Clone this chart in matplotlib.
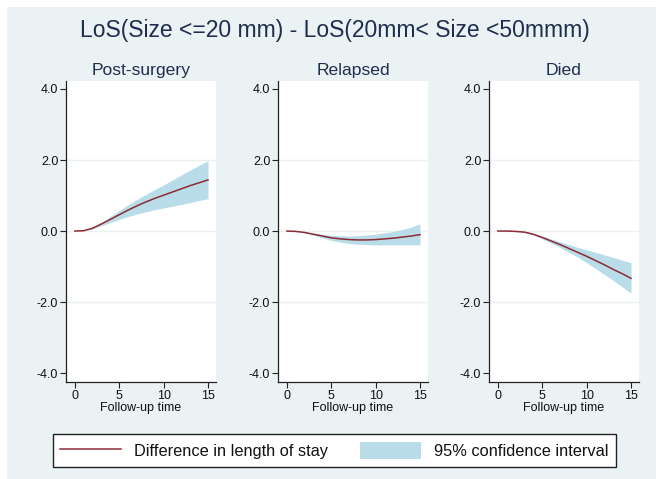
import matplotlib
matplotlib.use('Agg')
import matplotlib.pyplot as plt
from matplotlib.lines import Line2D
from matplotlib.patches import Patch, Rectangle

# follow-up time grid and estimated differences in length of stay
time = [0, 1, 2, 3, 4, 5, 6, 7, 8, 9, 10, 11, 12, 13, 14, 15]

panels = ['Post-surgery', 'Relapsed', 'Died']

post_est = [0, 0.01, 0.08, 0.20, 0.33, 0.46, 0.59, 0.71, 0.82, 0.92, 1.01, 1.10, 1.19, 1.28, 1.36, 1.44]
post_lo = [0, 0.01, 0.06, 0.15, 0.24, 0.33, 0.41, 0.48, 0.54, 0.60, 0.65, 0.70, 0.75, 0.80, 0.86, 0.91]
post_hi = [0, 0.01, 0.10, 0.24, 0.41, 0.58, 0.74, 0.89, 1.03, 1.17, 1.30, 1.44, 1.58, 1.72, 1.85, 1.98]

rel_est = [0, -0.01, -0.04, -0.09, -0.14, -0.19, -0.22, -0.24, -0.25, -0.25, -0.24, -0.22, -0.20, -0.17, -0.14, -0.10]
rel_lo = [0, -0.01, -0.05, -0.12, -0.19, -0.26, -0.31, -0.35, -0.37, -0.38, -0.39, -0.39, -0.39, -0.39, -0.39, -0.39]
rel_hi = [0, -0.01, -0.03, -0.06, -0.09, -0.12, -0.13, -0.14, -0.13, -0.11, -0.09, -0.05, -0.01, 0.04, 0.11, 0.20]

died_est = [0, 0, -0.01, -0.03, -0.09, -0.18, -0.28, -0.38, -0.49, -0.60, -0.71, -0.83, -0.95, -1.08, -1.20, -1.33]
died_lo = [0, 0, -0.01, -0.04, -0.11, -0.22, -0.34, -0.46, -0.60, -0.73, -0.89, -1.05, -1.22, -1.39, -1.57, -1.75]
died_hi = [0, 0, -0.01, -0.02, -0.07, -0.14, -0.22, -0.30, -0.38, -0.46, -0.53, -0.60, -0.67, -0.74, -0.82, -0.89]

yticks = [-4, -2, 0, 2, 4]
xticks = [0, 5, 10, 15]

bg = '#EAF2F3'
navy = '#1F2D4F'
line_col = '#8E2A35'
ci_col = '#B8DDE8'

plt.rcParams['font.family'] = ['Liberation Sans', 'DejaVu Sans']

W, H = 656, 479
fig = plt.figure(figsize=(W / 100, H / 100), dpi=100, facecolor='white')
fig.patches.append(Rectangle((7 / W, 0), 1, 1 - 7 / H, transform=fig.transFigure,
                             facecolor=bg, edgecolor='none', zorder=-10))

fig.text(335 / W, 1 - 30 / H, 'LoS(Size <=20 mm) - LoS(20mm< Size <50mmm)',
         ha='center', va='center', fontsize=16.5, color=navy)

series = [(post_est, post_lo, post_hi), (rel_est, rel_lo, rel_hi), (died_est, died_lo, died_hi)]
lefts = [66, 278, 489]
for name, left, (est, lo, hi) in zip(panels, lefts, series):
    ax = fig.add_axes([left / W, 1 - 382 / H, 150 / W, 301 / H])
    ax.set_facecolor('white')
    for g in [-2, 0, 2]:
        ax.axhline(g, color=bg, lw=1, zorder=0)
    ax.fill_between(time, lo, hi, color=ci_col, lw=0, zorder=2)
    ax.plot(time, est, color=line_col, lw=1.1, zorder=3)
    ax.set_xlim(-1.0, 15.9)
    ax.set_ylim(-4.25, 4.225)
    ax.set_yticks(yticks)
    ax.set_yticklabels(['%.1f' % v for v in yticks])
    ax.set_xticks(xticks)
    for s in ['top', 'right']:
        ax.spines[s].set_visible(False)
    for s in ['left', 'bottom']:
        ax.spines[s].set_color('#222222')
        ax.spines[s].set_linewidth(0.9)
    ax.tick_params(axis='both', direction='out', length=4, width=0.8,
                   color='#222222', labelsize=9, labelcolor='#111111', pad=1.5)
    ax.set_xlabel('Follow-up time', fontsize=9, color='#111111', labelpad=0)
    ax.set_title(name, fontsize=12.6, color=navy, pad=4)

handles = [Line2D([], [], color=line_col, lw=1.1),
           Patch(facecolor=ci_col, edgecolor='none')]
labels = ['Difference in length of stay', '95% confidence interval']
leg = fig.legend(handles, labels, loc='center',
                 bbox_to_anchor=(53 / W, 1 - 466 / H, 563 / W, 31 / H),
                 mode='expand', ncol=2, fontsize=11.8, handlelength=3.7,
                 handleheight=1.3, handletextpad=0.8, borderaxespad=0,
                 borderpad=0.45, fancybox=False, framealpha=1, edgecolor='#222222')
leg.get_frame().set_linewidth(1.0)
for t in leg.get_texts():
    t.set_color('#111111')

fig.savefig('out.png', dpi=100, facecolor=fig.get_facecolor())
